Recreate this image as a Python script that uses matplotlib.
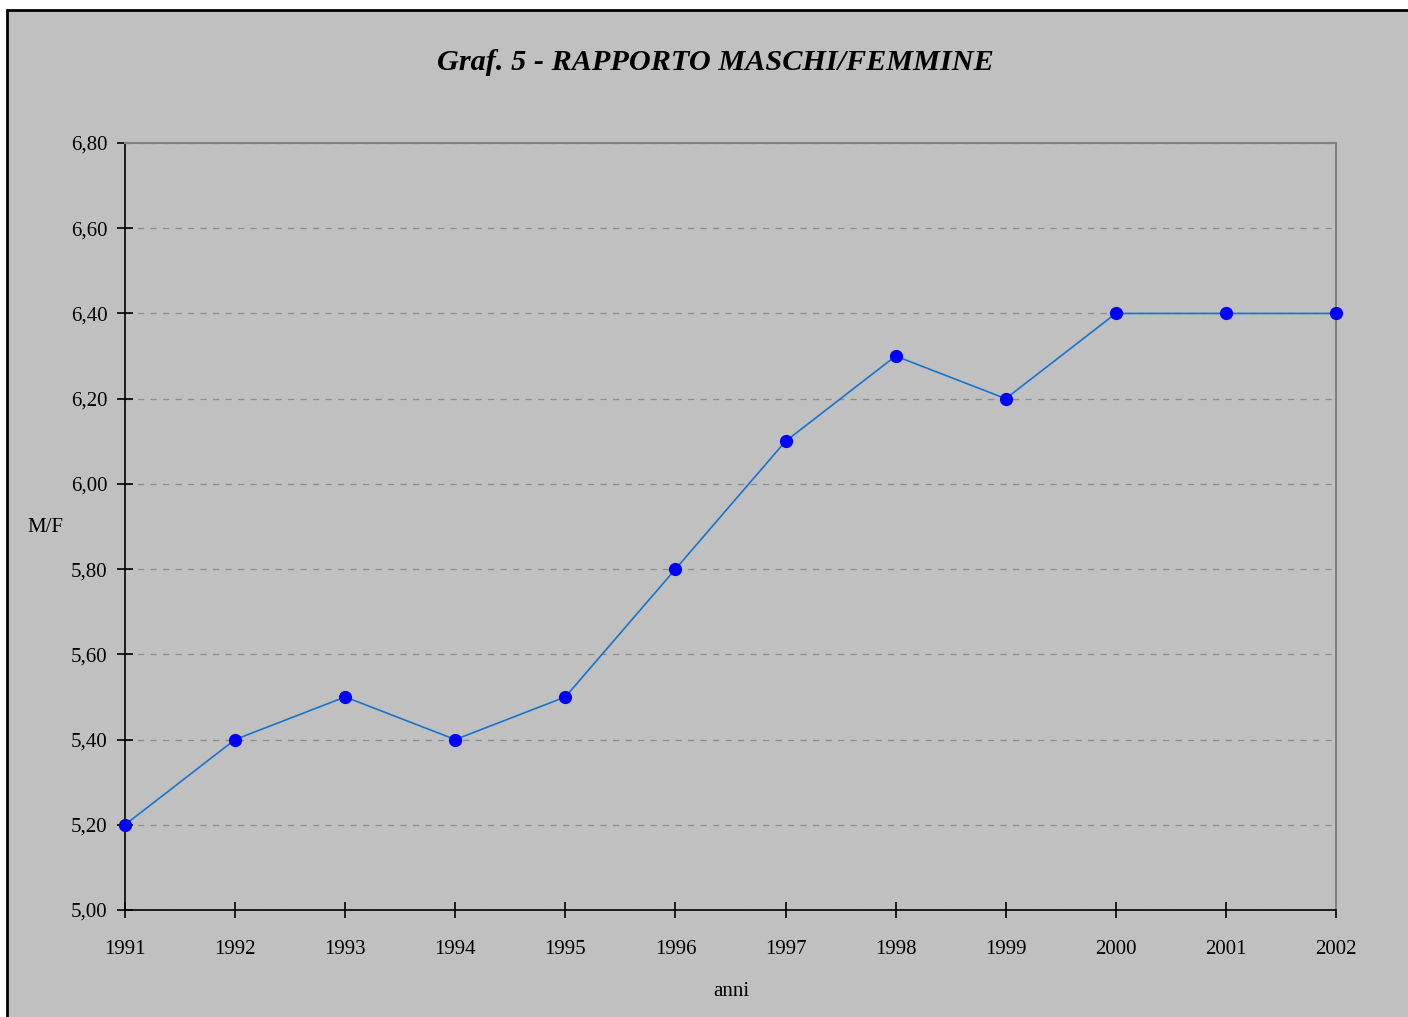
import matplotlib.pyplot as plt
from matplotlib.patches import Rectangle

# dati
anni = [1991, 1992, 1993, 1994, 1995, 1996, 1997, 1998, 1999, 2000, 2001, 2002]
rapporto_mf = [5.2, 5.4, 5.5, 5.4, 5.5, 5.8, 6.1, 6.3, 6.2, 6.4, 6.4, 6.4]
y_ticks = [5.0, 5.2, 5.4, 5.6, 5.8, 6.0, 6.2, 6.4, 6.6, 6.8]

plt.rcParams['font.family'] = ['Liberation Serif', 'DejaVu Serif']

bg = '#c0c0c0'
fig = plt.figure(figsize=(14.08, 10.17), dpi=100, facecolor='white')

# sfondo grigio con bordo nero (solo sinistra e alto visibili)
fig.patches.append(Rectangle((7 / 1408, -0.05), 1.2, 1 - 10 / 1017 + 0.05,
                             transform=fig.transFigure, facecolor=bg,
                             edgecolor='black', linewidth=2, zorder=-1))

ax = fig.add_axes([125 / 1408, 1 - 910 / 1017, (1336 - 125) / 1408, (910 - 143) / 1017])
ax.set_facecolor(bg)

ax.plot(range(len(anni)), rapporto_mf, color='#1874cd', linewidth=1.2,
        marker='o', markersize=8.5, markerfacecolor='#0000ff',
        markeredgecolor='#0000ff', clip_on=False, zorder=3)

ax.set_xlim(0, len(anni) - 1)
ax.set_ylim(5.0, 6.8)
ax.set_xticks(range(len(anni)))
ax.set_xticklabels([str(a) for a in anni])
ax.set_yticks(y_ticks)
ax.set_yticklabels([f"{v:.2f}".replace('.', ',') for v in y_ticks])

ax.yaxis.grid(True, linestyle=(0, (5, 5)), color='#8c8c8c', linewidth=0.9)
ax.set_axisbelow(True)

for s in ['top', 'right']:
    ax.spines[s].set_color('#808080')
    ax.spines[s].set_linewidth(1.5)
for s in ['left', 'bottom']:
    ax.spines[s].set_color('black')
    ax.spines[s].set_linewidth(1.2)

ax.tick_params(axis='both', direction='inout', length=11, width=1.2,
               labelsize=15, color='black')
ax.tick_params(axis='y', pad=7)
ax.tick_params(axis='x', pad=16)

fig.text(715 / 1408, 1 - 63 / 1017, 'Graf. 5 - RAPPORTO MASCHI/FEMMINE',
         ha='center', va='center', fontsize=21.8, fontweight='bold', fontstyle='italic')
fig.text(45 / 1408, 1 - 527 / 1017, 'M/F', ha='center', va='center', fontsize=15)
fig.text(731 / 1408, 1 - 991 / 1017, 'anni', ha='center', va='center', fontsize=15)

fig.savefig('out.png', dpi=100, facecolor=fig.get_facecolor())
